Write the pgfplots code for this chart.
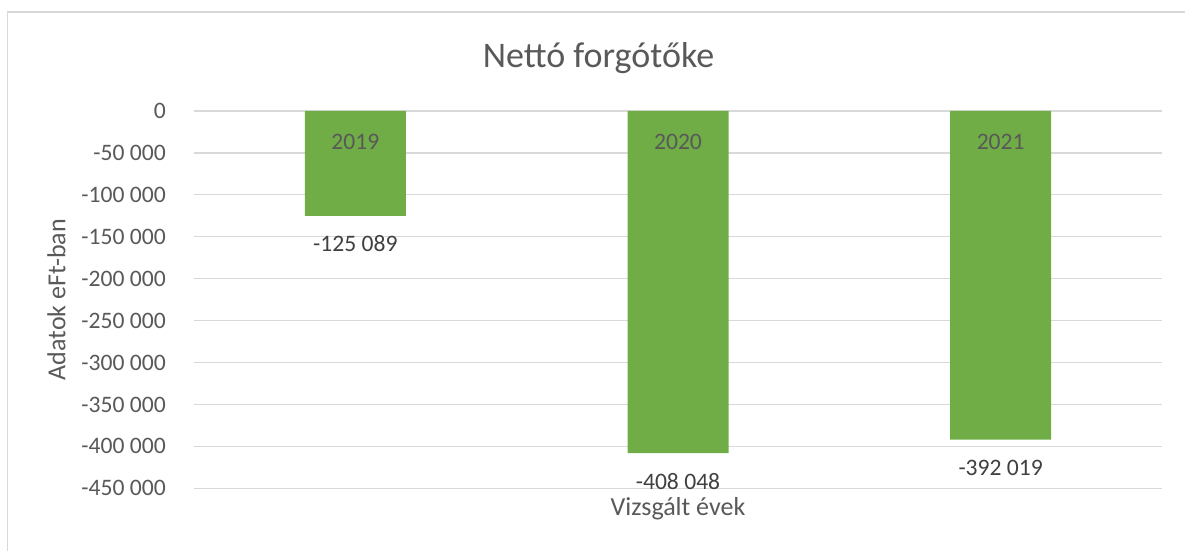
\documentclass[border=0pt]{standalone}
\usepackage{pgfplots}
\pgfplotsset{compat=1.18}
\usepackage{fontspec}
\setmainfont{Carlito}
\definecolor{bargreen}{HTML}{70AD47}
\definecolor{txtgray}{HTML}{595959}
\definecolor{lbldark}{HTML}{404040}
\definecolor{gridgray}{HTML}{D9D9D9}
\begin{document}
\begin{tikzpicture}
\path[use as bounding box] (0,0) rectangle (1185bp,551bp);
\draw[gridgray, line width=1.3bp] (7.5bp,0) -- (7.5bp,539bp) -- (1185bp,539bp);
\node[anchor=base, text=txtgray, font=\fontsize{36bp}{40bp}\selectfont, inner sep=0pt] at (598.5bp,483.3bp) {Nettó forgótőke};
\begin{axis}[
  at={(194bp,62.7bp)}, anchor=south west,
  scale only axis, width=968bp, height=377.3bp,
  ymin=-450000, ymax=0,
  xmin=-0.5, xmax=2.5,
  scaled y ticks=false,
  ytick={-450000,-400000,-350000,-300000,-250000,-200000,-150000,-100000,-50000,0},
  yticklabels={-450 000,-400 000,-350 000,-300 000,-250 000,-200 000,-150 000,-100 000,-50 000,0},
  xtick={0,1,2},
  xticklabels={},
  major tick length=0pt,
  axis line style={draw=none},
  ymajorgrids,
  major grid style={gridgray, line width=1.3bp},
  yticklabel style={anchor=east, inner sep=0pt, xshift=-28bp, text=txtgray, font=\fontsize{23.6bp}{26bp}\selectfont},
  xlabel={Vizsgált évek},
  xlabel style={at={(axis description cs:0.5,0)}, anchor=base, inner sep=0pt, yshift=-27.7bp, text=txtgray, font=\fontsize{26bp}{30bp}\selectfont},
  ylabel={Adatok eFt-ban},
  ylabel style={at={(axis description cs:-0.14205,0.5)}, anchor=center, inner sep=0pt, text=txtgray, font=\fontsize{26bp}{30bp}\selectfont},
  ybar, bar width=101bp,
  point meta=explicit symbolic,
]
\addplot[fill=bargreen, draw=none, bar shift=0pt,
  nodes near coords,
  every node near coord/.append style={anchor=center, inner sep=0pt, yshift=-28bp, text=lbldark, font=\fontsize{23.6bp}{26bp}\selectfont}]
coordinates {
  (0,-125089) [-125 089]
  (1,-408048) [-408 048]
  (2,-392019) [-392 019]
};
% category names, shown just under the zero line inside the bars
\addplot[draw=none, fill=none, bar shift=0pt,
  nodes near coords,
  every node near coord/.append style={anchor=center, inner sep=0pt, yshift=-30.5bp, text=txtgray, font=\fontsize{23.6bp}{26bp}\selectfont}]
coordinates {
  (0,0) [2019]
  (1,0) [2020]
  (2,0) [2021]
};
\end{axis}
\end{tikzpicture}
\end{document}
